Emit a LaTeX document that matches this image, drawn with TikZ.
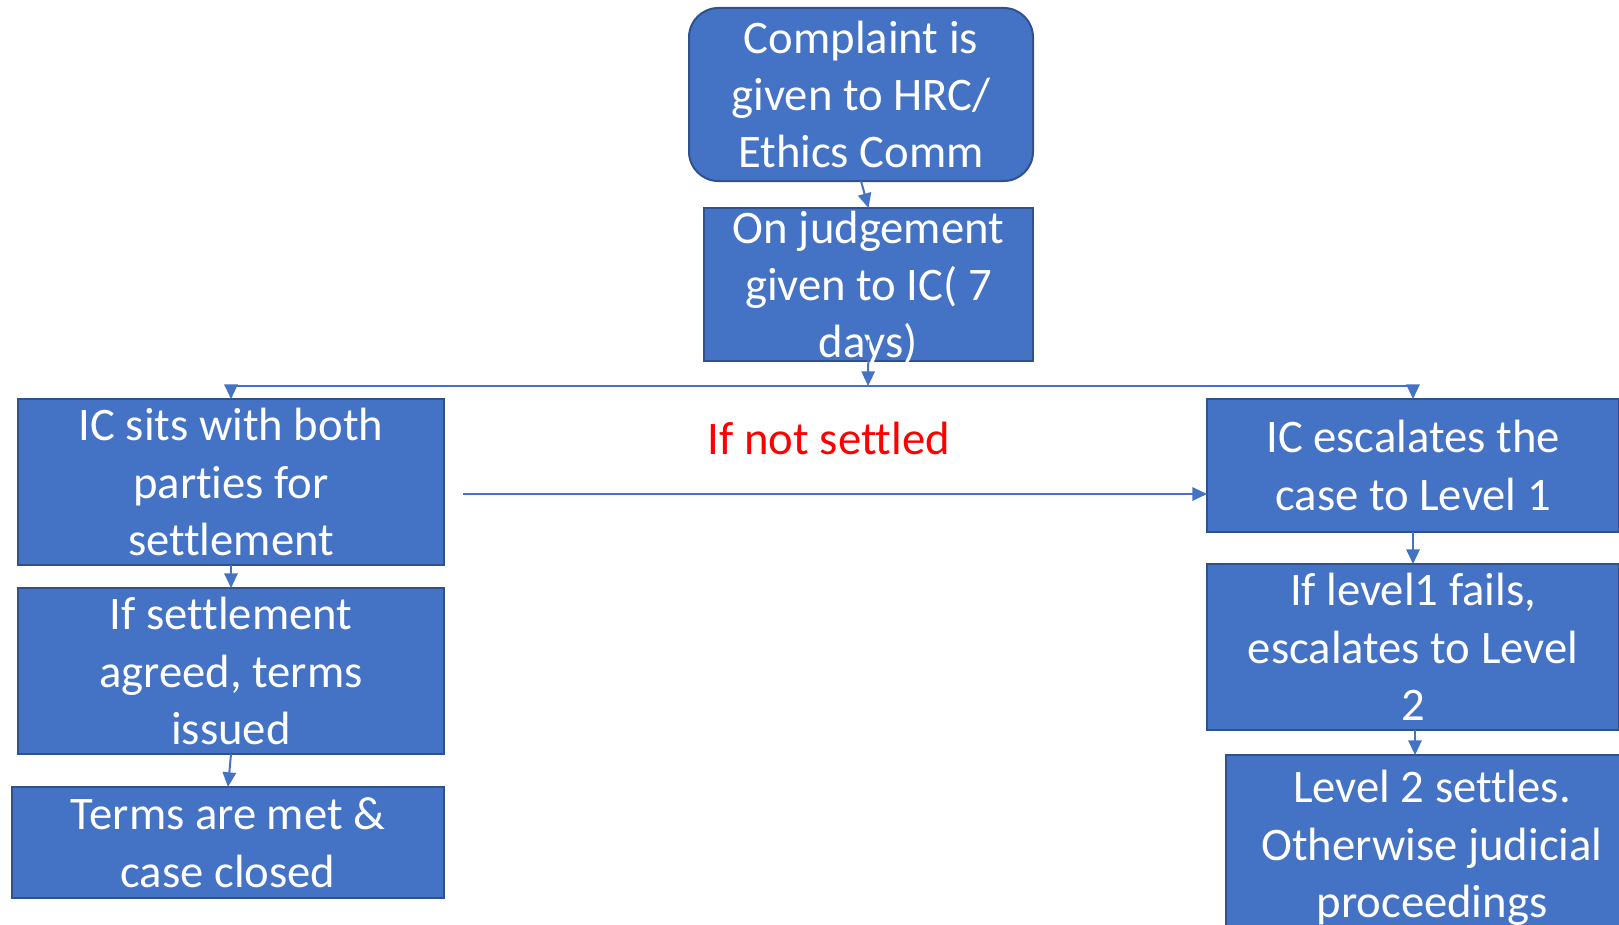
\documentclass[tikz,border=0pt]{standalone}
\usepackage{fontspec}
\setmainfont[Ligatures=NoCommon]{Carlito}
\usetikzlibrary{arrows.meta}
\definecolor{boxfill}{HTML}{4472C4}
\definecolor{boxline}{HTML}{2F528F}
\definecolor{arrowc}{HTML}{4472C4}
\definecolor{notred}{HTML}{FF0000}
\begin{document}
\begin{tikzpicture}[x=0.75pt,y=-0.75pt,
  box/.style={draw=boxline,fill=boxfill,line width=1.5pt,inner sep=0pt,outer sep=0pt},
  txt/.style={text=white,align=center,inner sep=0pt,yshift=-3.5pt,font=\fontsize{35}{43}\selectfont},
  arr/.style={draw=arrowc,line width=1.5pt,-{Triangle[length=11pt,width=10pt]}}]
\clip (0,0) rectangle (1619,924);
\fill[white] (0,0) rectangle (1619,924);

% boxes
\node[box,rounded corners=22pt,minimum width=258pt,minimum height=129.75pt] (n1) at (861,94.5) {};
\node[box,minimum width=246.75pt,minimum height=114.75pt] (n2) at (868.5,284.5) {};
\node[box,minimum width=319.5pt,minimum height=124.5pt] (n3) at (231,482) {};
\node[box,minimum width=319.5pt,minimum height=124.5pt] (n4) at (231,671) {};
\node[box,minimum width=324pt,minimum height=83.25pt] (n5) at (228,842.5) {};
\node[box,minimum width=309pt,minimum height=99.75pt] (n6) at (1413,465.5) {};
\node[box,minimum width=309pt,minimum height=124.5pt] (n7) at (1413,647) {};
\node[box,minimum width=309pt,minimum height=133.5pt] (n8) at (1432,844) {};

% texts
\node[txt] (t1) at (n1.center) {\strut Complaint is\\given to HRC/\\Ethics Comm\strut};
\node[txt] (t2) at (n2.center) {\strut On judgement\\given to IC( 7\\days)\strut};
\node[txt] (t3) at (n3.center) {\strut IC sits with both\\parties for\\settlement\strut};
\node[txt] (t4) at (n4.center) {\strut If settlement\\agreed, terms\\issued\strut};
\node[txt] (t5) at (n5.center) {\strut Terms are met \&\\case closed\strut};
\node[txt] (t6) at (n6.center) {\strut IC escalates the\\case to Level 1\strut};
\node[txt] (t7) at (n7.center) {\strut If level1 fails,\\escalates to Level\\2\strut};
\node[txt] (t8) at (n8.center) {\strut Level 2 settles.\\Otherwise judicial\\proceedings\strut};

\node[text=notred,inner sep=0pt,font=\fontsize{35}{43}\selectfont] (lbl) at (829,438) {If not settled};

% connectors
\coordinate (j) at (868,386);
\coordinate (s) at (463,494);
\draw[arr] (n1.south) -- (n2.north);
\draw[arr] ([yshift=16pt]n2.south) -- (j);
\draw[arr] (j) -| (n3.north);
\draw[arr] (j) -| (n6.north);
\draw[arr] (n3.south) -- (n4.north);
\draw[arr] (n4.south) -- (n5.north);
\draw[arr] (s) -- (s -| n6.west);
\draw[arr] (n6.south) -- (n7.north);
\draw[arr] ([xshift=1.5pt]n7.south) -- ([xshift=1.5pt]n7.south |- n8.north);
\end{tikzpicture}
\end{document}
